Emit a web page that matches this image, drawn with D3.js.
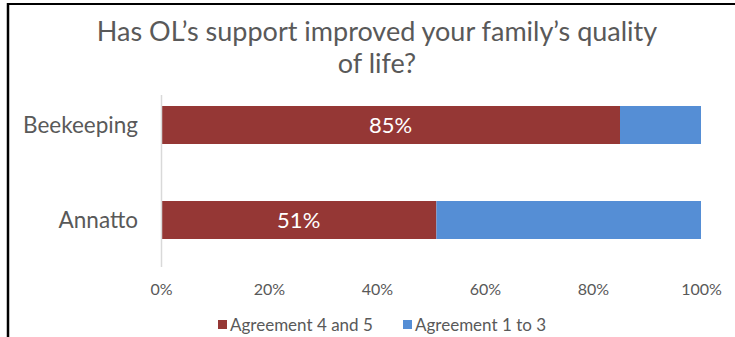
<!DOCTYPE html>
<html>
<head>
<meta charset="utf-8">
<script src="https://cdn.jsdelivr.net/npm/d3@7"></script>
<style>
  html, body { margin: 0; padding: 0; background: #fff; }
  svg { display: block; font-family: Lato, "Open Sans", sans-serif; }
</style>
</head>
<body>
<svg id="chart" width="735" height="337"></svg>
<script>
// Survey answers per programme: share agreeing (4–5) vs. the rest (1–3)
const categories = ["Beekeeping", "Annatto"];
const agree45 = [85, 51];
const agree13 = [15, 49];
const seriesNames = ["Agreement 4 and 5", "Agreement 1 to 3"];
const seriesColors = ["#953735", "#558ED5"];
const tickValues = [0, 20, 40, 60, 80, 100];
const titleLines = ["Has OL’s support improved your family’s quality", "of life?"];

const svg = d3.select("#chart");
const textColor = "#595959";

// frame lines (top and left edges of the chart box)
svg.append("line").attr("x1", 8).attr("x2", 735).attr("y1", 4).attr("y2", 4)
  .attr("stroke", "#000").attr("stroke-width", 2);
svg.append("line").attr("x1", 8).attr("x2", 8).attr("y1", 3).attr("y2", 337)
  .attr("stroke", "#000").attr("stroke-width", 2.5);

// title
svg.append("text")
  .attr("x", 377).attr("y", 41)
  .attr("text-anchor", "middle")
  .attr("fill", textColor)
  .style("font-size", "27px")
  .selectAll("tspan").data(titleLines).join("tspan")
  .attr("x", 377)
  .attr("dy", (d, i) => i === 0 ? 0 : 32)
  .text(d => d);

const x = d3.scaleLinear().domain([0, 100]).range([161, 701]);
const y = d3.scaleBand().domain(categories).range([77.5, 267.5]).paddingInner(0.6).paddingOuter(0.3);

// stacked rows
const rows = categories.map((c, i) => ({ cat: c, vals: [agree45[i], agree13[i]] }));
const g = svg.append("g");
rows.forEach(r => {
  let acc = 0;
  r.vals.forEach((v, j) => {
    g.append("rect")
      .attr("x", x(acc))
      .attr("y", y(r.cat))
      .attr("width", x(acc + v) - x(acc))
      .attr("height", y.bandwidth())
      .attr("fill", seriesColors[j]);
    acc += v;
  });
  // value label on the first segment
  g.append("text")
    .attr("x", (x(0) + x(r.vals[0])) / 2)
    .attr("y", y(r.cat) + y.bandwidth() / 2)
    .attr("dy", "0.36em")
    .attr("text-anchor", "middle")
    .attr("fill", "#fff")
    .style("font-size", "22px")
    .text(r.vals[0] + "%");
});

// vertical category axis line
svg.append("line")
  .attr("x1", 161.5).attr("x2", 161.5).attr("y1", 95).attr("y2", 267)
  .attr("stroke", "#d9d9d9").attr("stroke-width", 1.5);

// category labels
svg.append("g").selectAll("text").data(categories).join("text")
  .attr("x", 138)
  .attr("y", d => y(d) + y.bandwidth() / 2)
  .attr("dy", "0.36em")
  .attr("text-anchor", "end")
  .attr("fill", textColor)
  .style("font-size", "22.5px")
  .text(d => d);

// percentage axis
const xAxis = d3.axisBottom(x).tickValues(tickValues).tickFormat(d => d + "%").tickSize(0).tickPadding(0);
const ax = svg.append("g").attr("transform", "translate(0,284)").call(xAxis);
ax.select(".domain").remove();
ax.selectAll("text").attr("fill", textColor).style("font-size", "16px").style("font-family", "Lato, sans-serif");

// legend
const legend = svg.append("g").attr("transform", "translate(0,325)");
const legendX = [218, 403];
seriesNames.forEach((n, i) => {
  legend.append("rect").attr("x", legendX[i]).attr("y", -5).attr("width", 9).attr("height", 9).attr("fill", seriesColors[i]);
  legend.append("text").attr("x", legendX[i] + 12).attr("y", 0).attr("dy", "0.36em")
    .attr("fill", textColor).style("font-size", "17px").text(n);
});
</script>
</body>
</html>
